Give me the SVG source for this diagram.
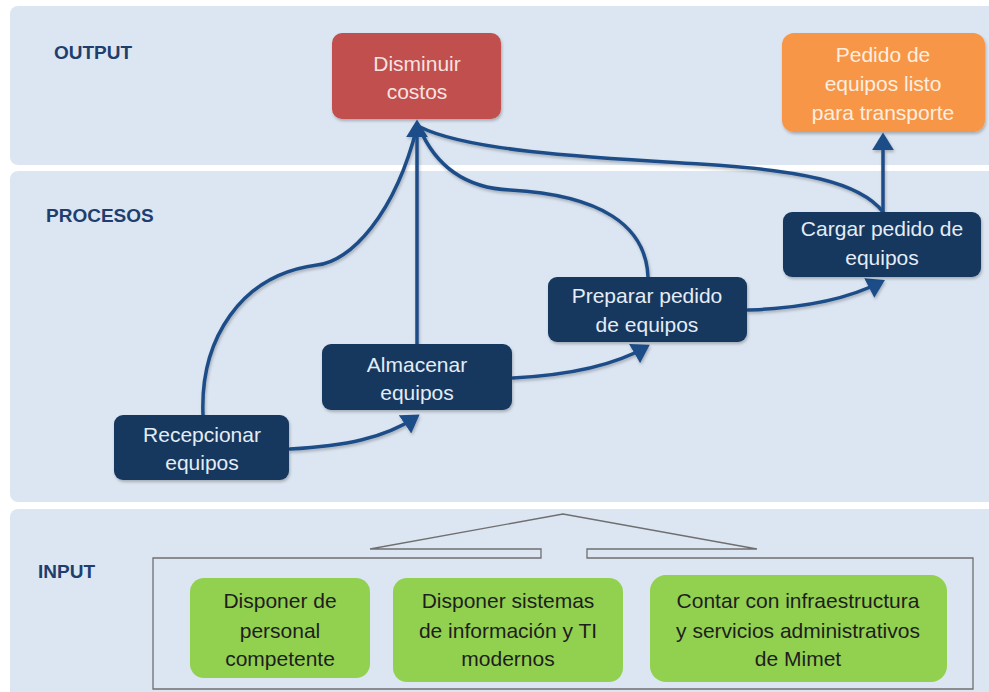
<svg xmlns="http://www.w3.org/2000/svg" width="989" height="692" viewBox="0 0 989 692">
<defs>
<style>
.panel{fill:#dce6f2;}
.lbl{font-family:"Liberation Sans",Arial,sans-serif;font-weight:bold;font-size:19px;fill:#1f3e6e;}
.t{font-family:"Liberation Sans",Arial,sans-serif;font-size:21px;text-anchor:middle;}
.dark rect{fill:#17375e;}
.dark text{fill:#e4ecf6;}
.green rect{fill:#92d050;}
.green text{fill:#1e1e1e;}
.conn path{fill:none;stroke:#1f4e89;stroke-width:3.5;stroke-linecap:round;}
</style>
<marker id="ah" markerUnits="userSpaceOnUse" markerWidth="18" markerHeight="22" viewBox="0 0 16 20" refX="12" refY="10" orient="auto">
<path d="M0,0 L16,10 L0,20 z" fill="#1f4e89"/>
</marker>
<filter id="sh" x="-10%" y="-10%" width="130%" height="140%">
<feDropShadow dx="1" dy="2" stdDeviation="1.5" flood-color="#000" flood-opacity="0.25"/>
</filter>
</defs>
<rect width="989" height="692" fill="#ffffff"/>
<g id="panels">
<rect class="panel" x="10" y="6" width="990" height="159" rx="8"/>
<rect class="panel" x="10" y="171" width="990" height="331" rx="8"/>
<rect class="panel" x="10" y="509" width="990" height="195" rx="8"/>
</g>
<g id="labels">
<text class="lbl" x="54" y="59">OUTPUT</text>
<text class="lbl" x="46" y="222">PROCESOS</text>
<text class="lbl" x="38" y="578">INPUT</text>
</g>
<g id="input-frame">
<path d="M153,558 H541 V549 H370 L563,514 L757,549 H587 V558 H973 V689 H153 Z" fill="none" stroke="#6f6f6f" stroke-width="1.3"/>
</g>
<g id="disminuir">
<rect x="332" y="33" width="169" height="86" rx="10" fill="#c0504d" filter="url(#sh)"/>
<text class="t" x="417" y="71" fill="#f6e2e1">Disminuir</text>
<text class="t" x="417" y="99" fill="#f6e2e1">costos</text>
</g>
<g id="pedido-listo">
<rect x="782" y="33" width="203" height="99" rx="12" fill="#f79646" filter="url(#sh)"/>
<text class="t" x="883" y="62" fill="#fdeee0">Pedido de</text>
<text class="t" x="883" y="91" fill="#fdeee0">equipos listo</text>
<text class="t" x="883" y="120" fill="#fdeee0">para transporte</text>
</g>
<g id="connectors" class="conn" filter="url(#sh)">
<path d="M290,449 C345,446 385,438 416,417" marker-end="url(#ah)"/>
<path d="M513,378 C570,375 615,365 646,347" marker-end="url(#ah)"/>
<path d="M748,310 C805,308 850,298 881,282" marker-end="url(#ah)"/>
<path d="M883,212 V137" marker-end="url(#ah)"/>
<path d="M203,415 C200,340 240,275 317,265 C350,262 395,215 417,127"/>
<path d="M648,277 C646,225 600,195 510,190 C465,188 435,165 419,127"/>
<path d="M883,212 C860,182 800,170 700,164 C600,158 470,152 420,127"/>
<path d="M417,344 V124" marker-end="url(#ah)"/>
</g>
<g id="recepcionar" class="dark">
<rect x="114" y="415" width="175" height="65" rx="9" filter="url(#sh)"/>
<text class="t" x="202" y="442">Recepcionar</text>
<text class="t" x="202" y="470">equipos</text>
</g>
<g id="almacenar" class="dark">
<rect x="322" y="344" width="190" height="66" rx="9" filter="url(#sh)"/>
<text class="t" x="417" y="372">Almacenar</text>
<text class="t" x="417" y="400">equipos</text>
</g>
<g id="preparar" class="dark">
<rect x="548" y="277" width="199" height="65" rx="9" filter="url(#sh)"/>
<text class="t" x="647" y="303">Preparar pedido</text>
<text class="t" x="647" y="332">de equipos</text>
</g>
<g id="cargar" class="dark">
<rect x="783" y="212" width="198" height="65" rx="9" filter="url(#sh)"/>
<text class="t" x="882" y="236">Cargar pedido de</text>
<text class="t" x="882" y="265">equipos</text>
</g>
<g id="personal" class="green">
<rect x="190" y="578" width="180" height="100" rx="14"/>
<text class="t" x="280" y="608">Disponer de</text>
<text class="t" x="280" y="638">personal</text>
<text class="t" x="280" y="666">competente</text>
</g>
<g id="sistemas" class="green">
<rect x="393" y="578" width="230" height="104" rx="14"/>
<text class="t" x="508" y="608">Disponer sistemas</text>
<text class="t" x="508" y="638">de información y TI</text>
<text class="t" x="508" y="666">modernos</text>
</g>
<g id="infraestructura" class="green">
<rect x="650" y="575" width="297" height="107" rx="16"/>
<text class="t" x="798" y="608">Contar con infraestructura</text>
<text class="t" x="798" y="638">y servicios administrativos</text>
<text class="t" x="798" y="666">de Mimet</text>
</g>
</svg>
